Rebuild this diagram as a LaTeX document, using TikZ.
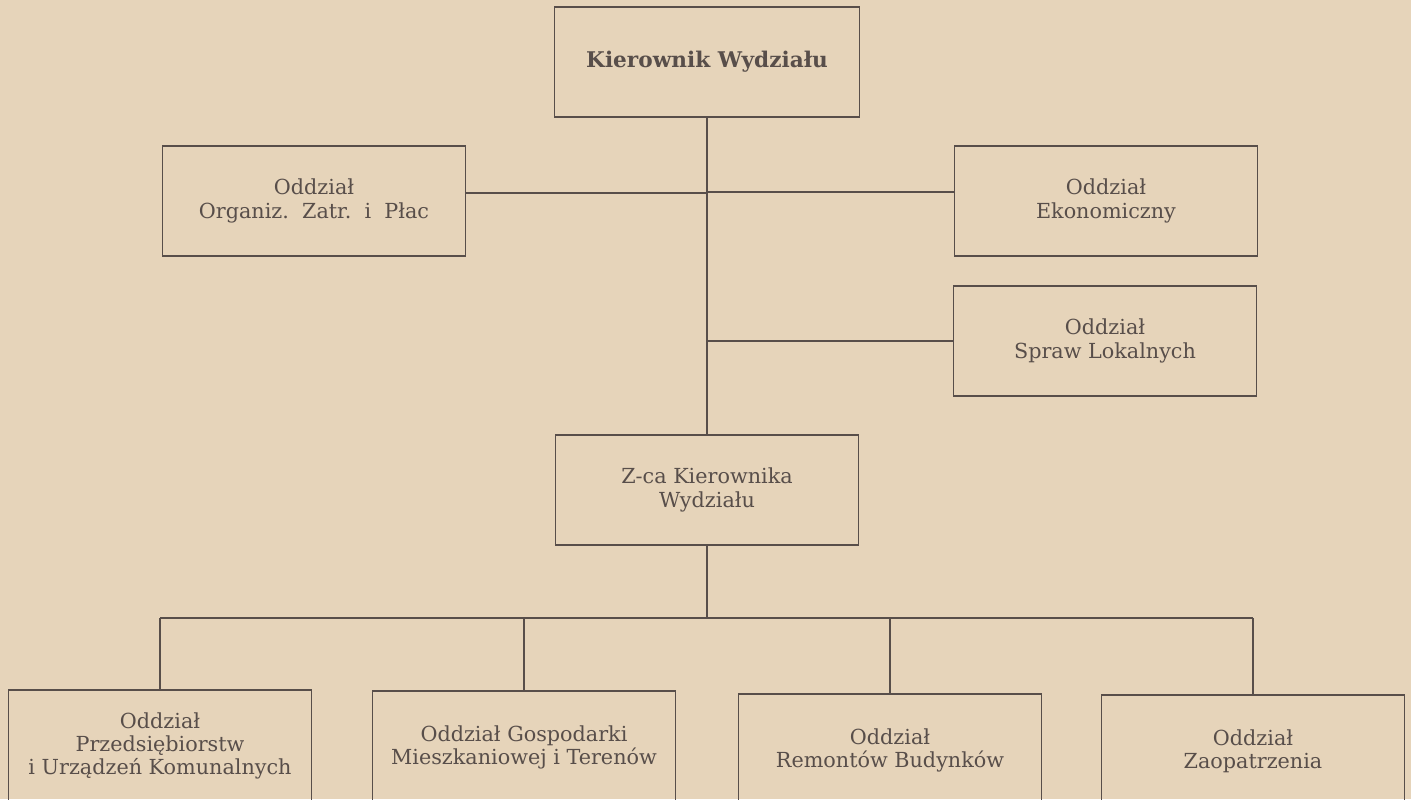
\documentclass[tikz,border=0pt]{standalone}
\usepackage{fontspec}
\setmainfont{DejaVu Serif}
\usetikzlibrary{positioning}
\definecolor{paper}{RGB}{230,212,186}
\definecolor{ink}{RGB}{88,78,74}

\begin{document}
\begin{tikzpicture}[x=0.02cm,y=-0.02cm,
  unit node/.style={rectangle,draw=ink,line width=0.8pt,align=center,minimum width=6.06cm,minimum height=2.2cm,inner sep=0pt,text=ink,font=\fontsize{11.8}{13.6}\selectfont},
  head node/.style={unit node,minimum width=6.1cm,font=\fontsize{12.3}{14}\selectfont\bfseries},
  low node/.style={unit node,minimum height=2.24cm,font=\fontsize{11.8}{13}\selectfont},
  link/.style={draw=ink,line width=0.8pt}]

	      \path[use as bounding box,fill=paper] (0,0) rectangle (1411,799);
	      \clip (0,0) rectangle (1411,799);

	      \node[head node] at (707,62) (kier) {Kierownik Wydziału};
	      \node[unit node] at (314,201) (org) {Oddział\\Organiz.\ \ Zatr.\ \ i\ \ Płac};
	      \node[unit node] at (1106,201) (eko) {Oddział\\Ekonomiczny};
	      \node[unit node] at (1105,341) (spraw) {Oddział\\Spraw Lokalnych};
	      \node[unit node] at (707,490) (zca) {Z-ca Kierownika\\Wydziału};

	      \node[low node] at (160,746) (przed) {Oddział\\Przedsiębiorstw\\i Urządzeń Komunalnych};
	      \node[low node] at (524,747) (gosp) {Oddział Gospodarki\\Mieszkaniowej i Terenów};
	      \node[low node] at (890,750) (rem) {Oddział\\Remontów Budynków};
	      \node[low node] at (1253,751) (zaop) {Oddział\\Zaopatrzenia};

	      \coordinate (bus) at (707,618);

	      \path[link]
	      (kier) edge (zca)
	      ([yshift=0.16cm]org.east) edge ([yshift=0.16cm]org.east -| kier.south)
	      ([yshift=0.18cm]eko.west) edge ([yshift=0.18cm]eko.west -| kier.south)
	      (spraw.west) edge (spraw.west -| kier.south)
	      (zca) edge (bus)
	      (przed.north |- bus) edge (zaop.north |- bus)
	      ;

	      \foreach \d in {przed,gosp,rem,zaop}
	        \draw[link] (\d.north |- bus) -- (\d.north);

	    \end{tikzpicture}
\end{document}
